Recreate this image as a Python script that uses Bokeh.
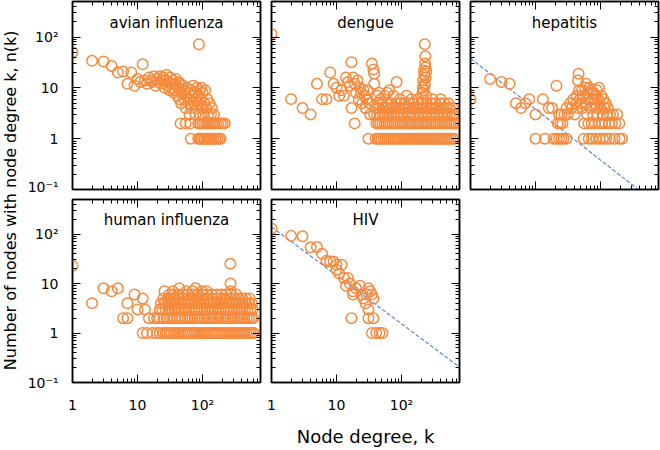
import numpy as np
from bokeh.plotting import figure
from bokeh.models import Range1d, FixedTicker, LogAxis, Label
from bokeh.layouts import row, column
from bokeh.embed import file_html
from bokeh.resources import INLINE

# ------------------------------------------------------------------ data
x_major = [1, 10, 100]
x_major_labels = ["1", "10", "10²"]
x_minor = [2, 3, 4, 5, 6, 7, 8, 9, 20, 30, 40, 50, 60, 70, 80, 90,
           200, 300, 400, 500, 600, 700]
y_major = [0.1, 1, 10, 100]
y_major_labels = ["10⁻¹", "1", "10", "10²"]
y_minor = [0.2, 0.3, 0.4, 0.5, 0.6, 0.7, 0.8, 0.9, 2, 3, 4, 5, 6, 7, 8, 9,
           20, 30, 40, 50, 60, 70, 80, 90, 200, 300, 400, 500]

titles = ["avian influenza", "dengue", "hepatitis", "human influenza", "HIV"]
x_label = "Node degree, k"
y_label = "Number of nodes with node degree k, n(k)"

# avian influenza: (k, n) points + dense rows at n=2 and n=1
avian_pts = [(1, 50), (2, 34), (3, 33), (4, 27), (5, 20), (6, 21), (7, 12), (8, 20),
             (9, 11), (10, 15), (11, 13), (12, 29), (13, 14), (14, 12), (15, 16),
             (16, 14), (17, 13), (18, 17), (19, 11), (20, 15), (21, 13), (22, 17),
             (23, 12), (24, 14), (25, 16), (26, 10), (27, 14), (28, 18), (29, 11),
             (30, 13), (31, 9), (32, 16), (33, 12), (34, 10), (35, 14), (36, 8),
             (37, 12), (38, 9), (39, 15), (40, 11), (41, 7), (42, 10), (43, 13),
             (44, 6), (45, 9), (46, 12), (47, 5), (48, 8), (50, 11), (52, 6), (53, 9),
             (55, 4), (56, 7), (58, 10), (60, 5), (61, 8), (63, 3), (65, 6), (66, 9),
             (68, 4), (70, 7), (72, 11), (74, 5), (76, 8), (78, 3), (80, 6), (82, 10),
             (84, 4), (86, 7), (88, 72), (88, 5), (90, 9), (92, 3), (94, 6), (96, 10),
             (98, 4), (100, 8), (102, 3), (106, 5), (110, 9), (114, 4), (118, 6),
             (122, 3), (128, 5), (135, 3), (140, 4), (150, 3)]
avian_n2_k = [46, 55, 65, 86, 92, 99, 106, 114, 122, 131, 140, 150, 162, 175, 190, 205, 220]
avian_n1_k = [66, 86, 91, 96, 102, 108, 115, 122, 130, 138, 147, 157, 168, 180, 190]

# dengue
dengue_pts = [(1, 115), (2, 6), (3, 4), (4, 3), (5, 12), (6, 6), (7, 6), (8, 20), (9, 12),
              (10, 10), (11, 7), (12, 9), (13, 7), (14, 16), (15, 13), (16, 11), (17, 32),
              (17, 4), (18, 16), (19, 12), (19, 2), (20, 8), (21, 14), (22, 6), (23, 10),
              (24, 8), (25, 5), (26, 9), (27, 7), (28, 4), (29, 6), (30, 9), (35, 30),
              (37, 23), (38, 19), (38, 12), (42, 7), (45, 8), (48, 6), (55, 7), (60, 8),
              (65, 9), (75, 7), (84, 13), (95, 6), (120, 7), (143, 6), (180, 6), (210, 8),
              (212, 10), (215, 14), (222, 22), (224, 18), (226, 12), (228, 72), (230, 30),
              (232, 42), (234, 25), (236, 16), (238, 7), (240, 21), (218, 9), (228, 11),
              (300, 6), (400, 6)]
dengue_n5_k = [32, 43, 50, 61, 70, 83, 96, 112, 130, 154, 179, 208, 245, 286, 332, 391, 455, 530]
dengue_n4_k = [28, 40, 45, 52, 58, 66, 74, 83, 94, 107, 119, 134, 150, 171, 191, 216, 241,
               273, 305, 346, 388, 436, 493, 552, 620]
dengue_n3_k = [33, 38, 42, 46, 51, 56, 62, 69, 75, 83, 91, 100, 110, 122, 133, 146, 160, 178,
               195, 214, 236, 258, 285, 314, 344, 378, 418, 457, 505, 553, 611, 668]
dengue_n2_k = [41, 44, 47, 51, 55, 59, 63, 68, 73, 78, 84, 90, 97, 104, 112, 120, 129, 138,
               148, 159, 171, 183, 197, 211, 227, 243, 261, 280, 301, 323, 346, 371, 398,
               427, 458, 491, 527, 565, 606, 650, 697]
dengue_n1_k = [31, 40, 43, 46, 49, 53, 57, 61, 65, 70, 75, 80, 86, 92, 99, 106, 114, 122,
               131, 140, 150, 161, 173, 186, 199, 214, 229, 246, 264, 283, 304, 326, 350,
               375, 402, 431, 462, 496, 532, 570, 612, 655]

# hepatitis
hep_pts = [(1, 6), (2, 15), (3, 13), (4, 12), (5, 5), (6, 4), (7, 5), (8, 6), (10, 1),
           (10, 3), (13, 6), (14, 1), (16, 4), (18, 4), (19, 1), (21, 11), (21, 1), (22, 2),
           (23, 3), (23, 1), (24, 2), (25, 3), (25, 1), (26, 2), (27, 1), (28, 3), (30, 4),
           (30, 1), (31, 3), (34, 5), (36, 4), (38, 6), (40, 3), (42, 5), (43, 7), (44, 4),
           (45, 14), (46, 19), (47, 9), (48, 6), (50, 5), (52, 9), (53, 4), (55, 7), (56, 2),
           (55, 1), (58, 10), (60, 12), (60, 5), (62, 3), (63, 8), (65, 2), (66, 1), (66, 6),
           (68, 10), (70, 4), (72, 9), (73, 2), (74, 1), (75, 6), (77, 3), (78, 8), (80, 5),
           (82, 2), (84, 7), (86, 1), (86, 4), (88, 9), (90, 3), (92, 6), (95, 10), (95, 2),
           (97, 1), (98, 5), (100, 4), (103, 7), (105, 2), (108, 3), (109, 1), (110, 6),
           (115, 4), (118, 2), (120, 5), (122, 1), (125, 3), (130, 4), (135, 2), (138, 1),
           (140, 3), (150, 2), (155, 3), (164, 1), (170, 2), (180, 3), (196, 1), (195, 2),
           (215, 1)]
hep_fit_coef = 38.0
hep_fit_exp = -1.0

# human influenza
human_pts = [(1, 23), (2, 4), (3, 8), (4, 7), (5, 8), (6, 2), (7, 2), (7, 4), (9, 6),
             (10, 3), (12, 5), (13, 3), (15, 2), (268, 25), (270, 10), (26, 7), (35, 7),
             (44, 8), (56, 7), (70, 7), (78, 8), (98, 7), (115, 7), (272, 7)]
human_n6_k = [31, 36, 42, 50, 60, 72, 85, 100, 118, 140, 165, 195, 230, 272, 330]
human_n5_k = [25, 29, 33, 38, 44, 50, 57, 65, 74, 84, 96, 110, 125, 143, 163, 186, 212, 242,
              275, 313, 357, 406, 463, 530]
human_n4_k = [23, 26, 30, 34, 38, 43, 48, 54, 61, 68, 76, 85, 95, 106, 119, 133, 149, 167,
              187, 209, 234, 262, 293, 328, 367, 411, 460, 515, 575]
human_n3_k = [22, 24, 27, 30, 33, 37, 41, 45, 50, 55, 61, 67, 74, 81, 89, 98, 108, 119, 131,
              144, 158, 174, 191, 210, 231, 254, 279, 307, 338, 372, 409, 450, 495, 545, 590]
human_n2_k = [18, 20, 22, 25, 28, 31, 34, 37, 41, 45, 49, 54, 59, 64, 70, 76, 83, 90, 98,
              107, 116, 126, 137, 149, 162, 176, 191, 208, 226, 246, 267, 290, 315, 342,
              372, 404, 439, 477, 518, 563, 600]
human_n1_k = [12, 14, 17, 20, 22, 25, 27, 29, 31, 33, 36, 39, 42, 45, 49, 53, 57, 61, 66,
              71, 76, 82, 88, 95, 102, 110, 118, 127, 137, 147, 158, 170, 183, 197, 212,
              228, 245, 264, 284, 305, 328, 353, 380, 408, 439, 472, 507, 545, 585, 610]

# HIV
hiv_pts = [(1, 130), (2, 92), (3, 90), (4, 54), (5, 55), (6, 40), (7, 29), (8, 28), (9, 28),
           (10, 19), (10, 24), (12, 24), (11, 16), (13, 13), (15, 13), (14, 9), (16, 10),
           (18, 7), (18, 6), (17, 2), (20, 8), (23, 9), (24, 6), (26, 5), (28, 4), (29, 6),
           (31, 8), (31, 3), (33, 7), (35, 6), (37, 5), (31, 2), (37, 2), (35, 1), (41, 1),
           (46, 1), (51, 1)]
hiv_fit_coef = 140.0
hiv_fit_exp = -0.98

fit_k = [1, 800]

# ------------------------------------------------------------------ style
FONT = "DejaVu Sans"
ORANGE = "#F68B3E"
BLUE = "#5A86E0"
XLO, XHI = 1, 780
YLO, YHI = 0.1, 500
FW, FH = 188, 188


def combine(pts, bands):
    ks = [float(p[0]) for p in pts]
    ns = [float(p[1]) for p in pts]
    for nval, klist in bands:
        ks += [float(k) for k in klist]
        ns += [float(nval)] * len(klist)
    return ks, ns


def style_axis(ax, major, minor, labels, show, standoff):
    ax.ticker = FixedTicker(ticks=major, minor_ticks=minor)
    ax.axis_line_color = "black"
    ax.axis_line_width = 1.5
    ax.major_tick_in = 8
    ax.major_tick_out = 0
    ax.minor_tick_in = 4
    ax.minor_tick_out = 0
    ax.major_tick_line_color = "black"
    ax.minor_tick_line_color = "black"
    ax.major_tick_line_width = 1
    ax.minor_tick_line_width = 1
    ax.major_label_text_font = FONT
    if show:
        ax.major_label_overrides = {float(t): l for t, l in zip(major, labels)}
        ax.major_label_text_font_size = "14px"
        ax.major_label_text_color = "black"
        ax.major_label_standoff = standoff
    else:
        ax.major_label_text_font_size = "1px"
        ax.major_label_text_alpha = 0.0
        ax.major_label_standoff = 0


def panel(title, ks, ns, lb, rb, tb, bb, show_x, show_y, fit=None, xlab=None):
    p = figure(width=lb + FW + rb, height=tb + FH + bb,
               x_axis_type="log", y_axis_type="log",
               x_range=Range1d(XLO, XHI), y_range=Range1d(YLO, YHI),
               output_backend="svg", toolbar_location=None,
               min_border_left=lb, min_border_right=rb,
               min_border_top=tb, min_border_bottom=bb,
               background_fill_color="white", border_fill_color="white")
    p.grid.visible = False
    p.outline_line_color = "black"
    p.outline_line_width = 1.5
    top = LogAxis()
    right = LogAxis()
    p.add_layout(top, "above")
    p.add_layout(right, "right")
    style_axis(p.below[0], x_major, x_minor, x_major_labels, show_x, 14)
    style_axis(top, x_major, x_minor, x_major_labels, False, 0)
    style_axis(p.left[0], y_major, y_minor, y_major_labels, show_y, 14)
    style_axis(right, y_major, y_minor, y_major_labels, False, 0)
    if xlab:
        ax = p.below[0]
        ax.axis_label = xlab
        ax.axis_label_text_font = FONT
        ax.axis_label_text_font_size = "18px"
        ax.axis_label_text_font_style = "normal"
        ax.axis_label_text_color = "black"
        ax.axis_label_standoff = 10
    if fit is not None:
        coef, ex = fit
        fy = [coef * k ** ex for k in fit_k]
        p.line([float(k) for k in fit_k], fy, line_color=BLUE, line_width=1.2,
               line_dash="4 2")
    p.scatter(ks, ns, marker="circle", size=10.5, fill_color=None,
              line_color=ORANGE, line_width=1.5)
    p.add_layout(Label(x=float(np.sqrt(XLO * XHI)), y=190.0, text=title,
                       text_align="center", text_baseline="middle",
                       text_font=FONT, text_font_size="15px", text_color="black"))
    return p


ak, an = combine(avian_pts, [(2, avian_n2_k), (1, avian_n1_k)])
dk, dn = combine(dengue_pts, [(5, dengue_n5_k), (4, dengue_n4_k), (3, dengue_n3_k),
                              (2, dengue_n2_k), (1, dengue_n1_k)])
hk, hn = combine(hep_pts, [])
uk, un = combine(human_pts, [(6, human_n6_k), (5, human_n5_k), (4, human_n4_k),
                             (3, human_n3_k), (2, human_n2_k), (1, human_n1_k)])
vk, vn = combine(hiv_pts, [])

# frames: columns at x = 72, 271, 470 ; rows at y = 1, 199 (width/height 188)
f1 = panel(titles[0], ak, an, 52, 5, 1, 5, False, True)
f2 = panel(titles[1], dk, dn, 6, 5, 1, 5, False, False)
f3 = panel(titles[2], hk, hn, 6, 2, 1, 5, False, False, fit=(hep_fit_coef, hep_fit_exp))
f4 = panel(titles[3], uk, un, 52, 5, 5, 62, True, True)
f5 = panel(titles[4], vk, vn, 6, 5, 5, 62, True, False,
           fit=(hiv_fit_coef, hiv_fit_exp), xlab=x_label)

lab = figure(width=20, height=449, x_range=Range1d(0, 1), y_range=Range1d(0, 1),
             output_backend="svg", toolbar_location=None,
             x_axis_location=None, y_axis_location=None,
             min_border_left=0, min_border_right=0, min_border_top=0, min_border_bottom=0)
lab.grid.visible = False
lab.outline_line_color = None
lab.add_layout(Label(x=0.5, y=0.555, text=y_label, angle=90, angle_units="deg",
                     text_align="center", text_baseline="middle",
                     text_font=FONT, text_font_size="16px", text_color="black"))

layout = row(lab, column(row(f1, f2, f3), row(f4, f5)))

open("out.html", "w").write(file_html(layout, INLINE))
